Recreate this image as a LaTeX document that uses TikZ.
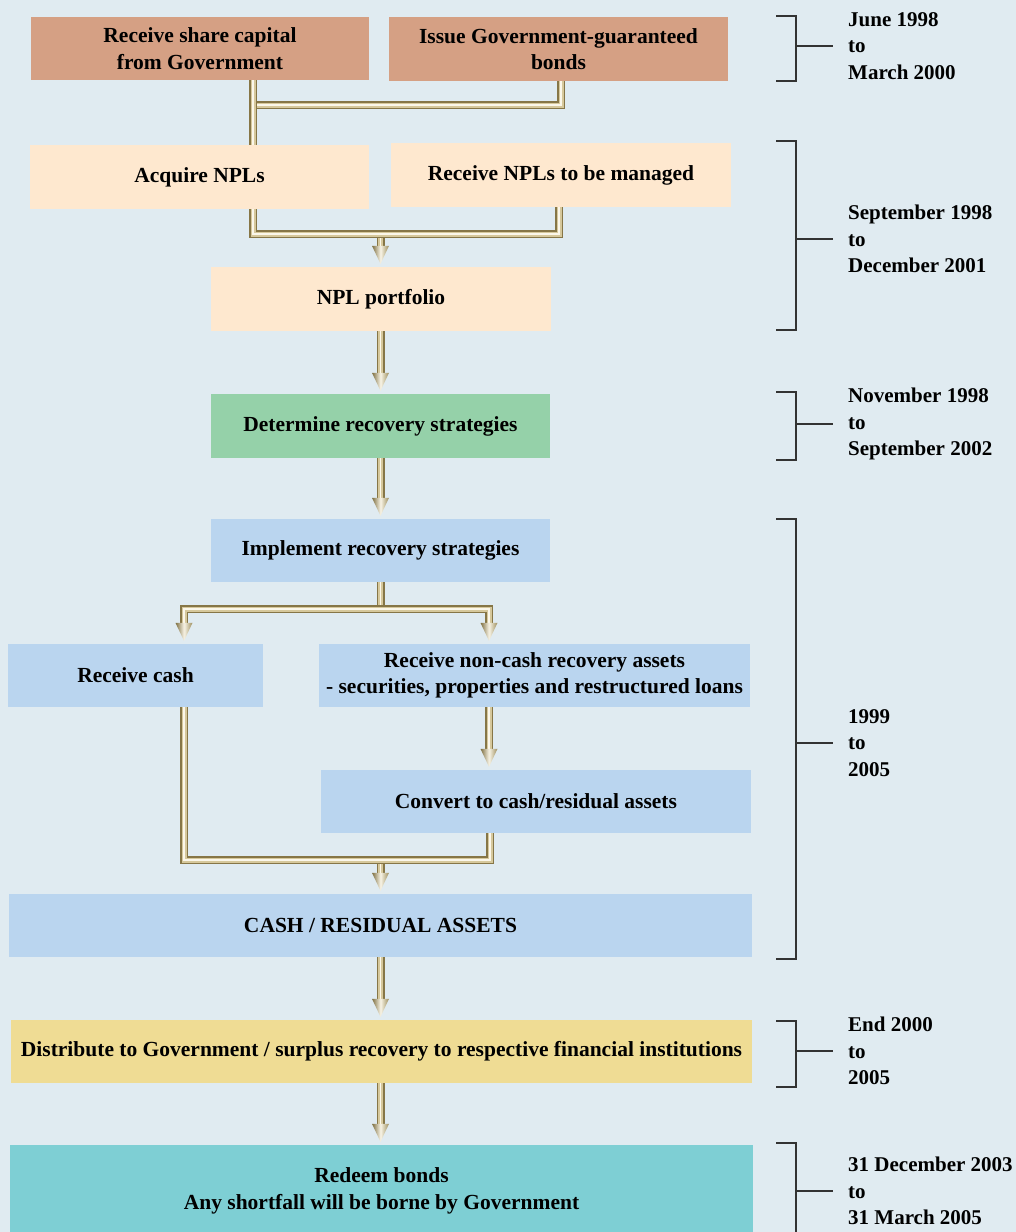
\documentclass[tikz,border=0pt]{standalone}
\usepackage{fontspec}
\setmainfont{Liberation Serif}
\usetikzlibrary{calc}

\definecolor{pagebg}{HTML}{E0EBF1}
\definecolor{salmon}{HTML}{D5A084}
\definecolor{peach}{HTML}{FEE8CF}
\definecolor{mint}{HTML}{95D1A9}
\definecolor{sky}{HTML}{BAD5EF}
\definecolor{straw}{HTML}{EFDC94}
\definecolor{teal}{HTML}{7ECFD4}
\definecolor{pipedark}{HTML}{867647}
\definecolor{pipelight}{HTML}{D6C89C}
\definecolor{pipecore}{HTML}{FBF7EA}
\definecolor{tipdark}{HTML}{7D6E40}
\definecolor{tipmid}{HTML}{F8F4E6}
\definecolor{tipright}{HTML}{9C8D5C}
\definecolor{rule}{HTML}{333333}

% arrowhead of a pipe, its point 3pt above the top of node #2, at x = #1
\newcommand\pipetip[2]{%
  \coordinate (tipend) at ($(#1,0 |- #2.north)+(0,-3)$);
  \shade[left color=tipdark, right color=tipright, middle color=tipmid]
    ($(tipend)+(-8.5,-18)$) -- ($(tipend)+(8.5,-18)$) -- (tipend) -- cycle;}

% bracket on the right with its period label
\newcommand\period[5]{% top, bottom, middle, name, text
  \node[datelabel] (#4) at (848,#3) {#5};
  \draw[bracket] (776,#1) -- (796,#1) -- (796,#2) -- (776,#2);
  \draw[bracket] (796,#3) -- ($(#4.west)+(-15,0)$);}

\begin{document}
\begin{tikzpicture}[x=1pt, y=-1pt,
  box/.style={minimum width=#1, minimum height=63pt, inner sep=0pt,
    align=center, font=\fontsize{21.5}{26.5}\selectfont\bfseries},
  pipe/.style={draw=pipedark, line width=8pt,
    postaction={draw=pipelight, line width=5pt},
    postaction={draw=pipecore, line width=1.8pt}},
  bracket/.style={draw=rule, line width=1.6pt},
  datelabel/.style={anchor=west, align=left, inner sep=0pt,
    font=\fontsize{21}{26.5}\selectfont\bfseries}]

\useasboundingbox (0,0) rectangle (1016,1232);
\clip (0,0) rectangle (1016,1232);
\fill[pagebg] (0,0) rectangle (1016,1232);

% process boxes
\node[box=338pt, fill=salmon] (b1) at (200,48.5) {Receive share capital\\from Government};
\node[box=339pt, fill=salmon, minimum height=64pt] (b2) at (558.5,49) {Issue Government-guaranteed\\bonds};
\node[box=339pt, fill=peach, minimum height=64pt] (b3) at (199.5,177) {Acquire NPLs};
\node[box=340pt, fill=peach, minimum height=64pt] (b4) at (561,175) {Receive NPLs to be managed};
\node[box=340pt, fill=peach, minimum height=64pt] (b5) at (381,299) {NPL portfolio};
\node[box=339pt, fill=mint, minimum height=64pt] (b6) at (380.5,426) {Determine recovery strategies};
\node[box=339pt, fill=sky] (b7) at (380.5,550.5) {Implement recovery strategies};
\node[box=255pt, fill=sky] (b8) at (135.5,675.5) {Receive cash};
\node[box=431pt, fill=sky] (b9) at (534.5,675.5) {Receive non-cash recovery assets\\- securities, properties and restructured loans};
\node[box=430pt, fill=sky] (b10) at (536,801.5) {Convert to cash/residual assets};
\node[box=743pt, fill=sky] (b11) at (380.5,925.5) {CASH / RESIDUAL ASSETS};
\node[box=741pt, fill=straw] (b12) at (381.5,1051.5) {Distribute to Government / surplus recovery to respective financial institutions};
\node[box=743pt, fill=teal, minimum height=92pt] (b13) at (381.5,1191) {Redeem bonds\\Any shortfall will be borne by Government};

% funding merges into acquisition
\draw[pipe] (253,0 |- b1.south) -- (253,0 |- b3.north);
\draw[pipe] (561,0 |- b2.south) -- (561,105) -- (257,105);

% acquired and managed NPLs form the portfolio
\draw[pipe] (380.5,234) -- ($(380.5,0 |- b5.north)+(0,-20)$);
\draw[pipe] (253,0 |- b3.south) -- (253,234) -- (559,234) -- (559,0 |- b4.south);
\pipetip{380.5}{b5}

\draw[pipe] (380.5,0 |- b5.south) -- ($(380.5,0 |- b6.north)+(0,-20)$);
\pipetip{380.5}{b6}

\draw[pipe] (380.5,0 |- b6.south) -- ($(380.5,0 |- b7.north)+(0,-20)$);
\pipetip{380.5}{b7}

% implementation splits into cash and non-cash recoveries
\draw[pipe] (380.5,0 |- b7.south) -- (380.5,609);
\draw[pipe] ($(184,0 |- b8.north)+(0,-20)$) -- (184,609) -- (489,609) -- ($(489,0 |- b9.north)+(0,-20)$);
\pipetip{184}{b8}
\pipetip{489}{b9}

\draw[pipe] (489,0 |- b9.south) -- ($(489,0 |- b10.north)+(0,-20)$);
\pipetip{489}{b10}

% cash and converted assets merge
\draw[pipe] (380.5,860) -- ($(380.5,0 |- b11.north)+(0,-20)$);
\draw[pipe] (184,0 |- b8.south) -- (184,860) -- (490,860) -- (490,0 |- b10.south);
\pipetip{380.5}{b11}

\draw[pipe] (380.5,0 |- b11.south) -- ($(380.5,0 |- b12.north)+(0,-20)$);
\pipetip{380.5}{b12}

\draw[pipe] (380.5,0 |- b12.south) -- ($(380.5,0 |- b13.north)+(0,-20)$);
\pipetip{380.5}{b13}

% periods
\period{16}{81}{46}{t1}{June 1998\\to\\March 2000}
\period{141}{330}{239}{t2}{September 1998\\to\\December 2001}
\period{392}{460}{424}{t3}{November 1998\\to\\September 2002}
\period{519}{959}{743}{t4}{1999\\to\\2005}
\period{1021}{1087}{1051}{t5}{End 2000\\to\\2005}
\period{1143}{1240}{1191}{t6}{31 December 2003\\to\\31 March 2005}
\end{tikzpicture}
\end{document}
